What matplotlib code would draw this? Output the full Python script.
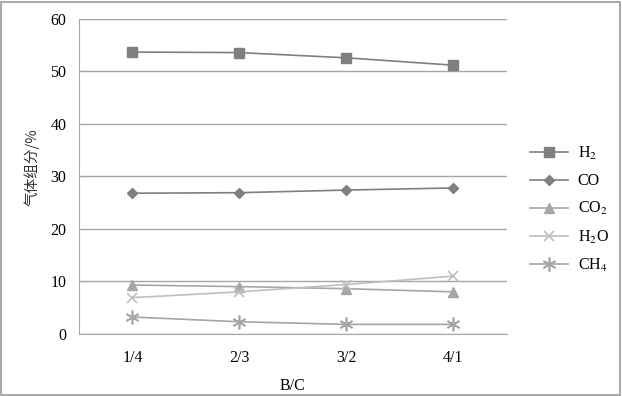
import numpy as np
import matplotlib.pyplot as plt
from matplotlib.patches import Rectangle

categories = ['1/4', '2/3', '3/2', '4/1']
h2 = [53.7, 53.6, 52.6, 51.2]
co = [26.8, 26.9, 27.4, 27.8]
co2 = [9.3, 9.0, 8.6, 8.0]
h2o = [6.9, 8.0, 9.4, 11.0]
ch4 = [3.2, 2.3, 1.8, 1.8]

plt.rcParams['font.family'] = ['Liberation Serif', 'Noto Sans CJK SC']
plt.rcParams['mathtext.fontset'] = 'stix'

fig = plt.figure(figsize=(6.22, 3.96), dpi=100)
ax = fig.add_axes([0.127, 0.157, 0.688, 0.795])
x = np.arange(len(categories))

ax.plot(x, h2, color='#7f7f7f', marker='s', markersize=7, lw=1.2, label='H$_2$')
ax.plot(x, co, color='#7f7f7f', marker='D', markersize=5.5, lw=1.2, label='CO')
ax.plot(x, co2, color='#a6a6a6', marker='^', markersize=7, lw=1.2, label='CO$_2$')
ax.plot(x, h2o, color='#bfbfbf', marker='x', markersize=7, mew=1.2, lw=1.2, label='H$_2$O')
ax.plot(x, ch4, color='#a6a6a6', marker=(6, 2, 0), markersize=10, mew=1.2, lw=1.2, label='CH$_4$')

ax.set_xlim(-0.5, 3.5)
ax.set_ylim(0, 60)
ax.set_yticks(range(0, 61, 10))
ax.set_xticks(x)
ax.set_xticklabels(categories)
ax.tick_params(length=0, labelsize=11.5, colors='black', pad=12)
ax.tick_params(axis='y', pad=9)
ax.grid(axis='y', color='#a6a6a6', lw=1)
ax.set_axisbelow(True)
for s in ['top', 'right']:
    ax.spines[s].set_visible(False)
ax.spines['left'].set_color('#a6a6a6')
ax.spines['bottom'].set_color('#a6a6a6')

ax.set_xlabel('B/C', fontsize=11.5, labelpad=8)
ax.set_ylabel('气体组分/%', fontsize=10.5, family=['Noto Sans CJK SC'], color='#333333')
ax.yaxis.set_label_coords(-0.093, 0.53)

ax.legend(loc='center left', bbox_to_anchor=(1.02, 0.395), frameon=False,
          fontsize=11.5, handlelength=2.4, handletextpad=0.6, labelspacing=0.7)

fig.patches.append(Rectangle((0.002, 0.003), 0.995, 0.993, transform=fig.transFigure,
                             fill=False, edgecolor='#999999', lw=1.2))
fig.savefig('out.png', dpi=100)
